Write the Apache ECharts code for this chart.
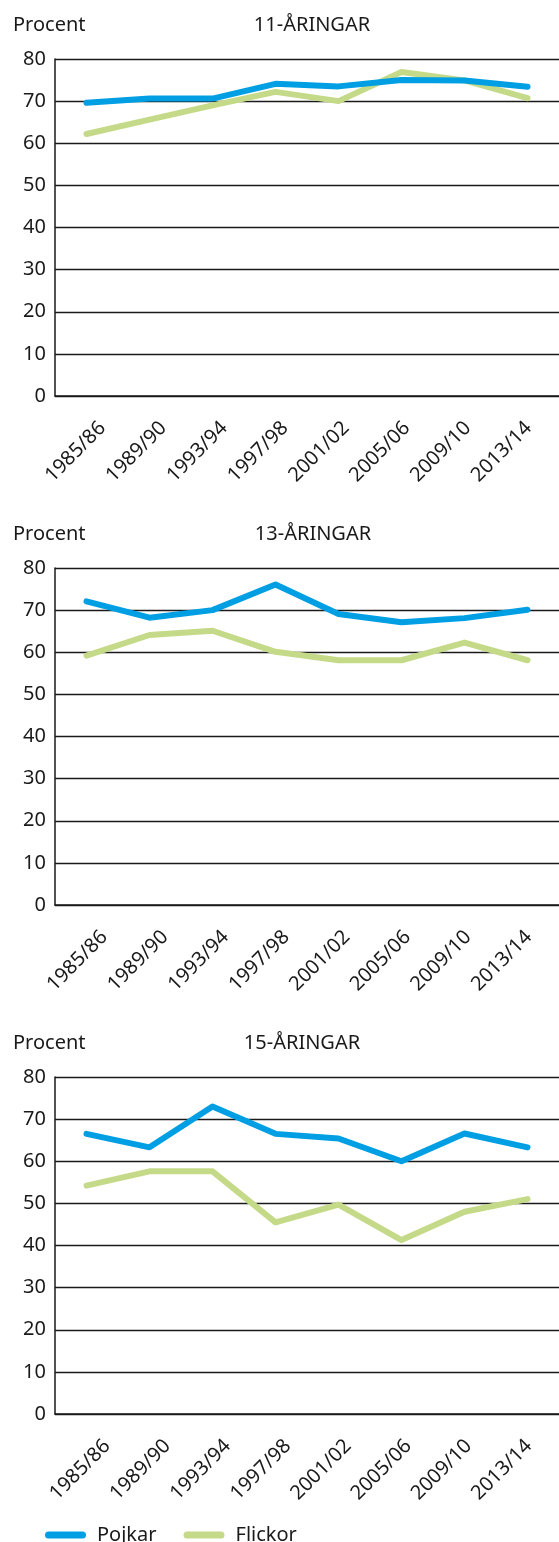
<!DOCTYPE html>
<html>
<head>
<meta charset="utf-8">
<script src="https://cdn.jsdelivr.net/npm/echarts@6/dist/echarts.min.js"></script>
<style>
  html, body { margin: 0; padding: 0; background: #fff; }
  #chart { width: 559px; height: 1542px; }
</style>
</head>
<body>
<div id="chart"></div>
<script>
// läsår
const years = ["1985/86", "1989/90", "1993/94", "1997/98", "2001/02", "2005/06", "2009/10", "2013/14"];
const yTicks = [0, 80, 10]; // min, max, steg

// 11-åringar
const boys11 = [69.6, 70.6, 70.6, 74.1, 73.5, 75, 74.9, 73.4];
const girls11 = [62.2, 65.6, 69, 72.2, 70, 76.9, 74.9, 70.7];
// 13-åringar
const boys13 = [72.1, 68.2, 70, 76.1, 69.1, 67.1, 68.1, 70.1];
const girls13 = [59.2, 64.1, 65.1, 60.1, 58.1, 58.1, 62.3, 58.1];
// 15-åringar
const boys15 = [66.5, 63.3, 73, 66.5, 65.4, 60, 66.6, 63.3];
const girls15 = [54.2, 57.6, 57.6, 45.5, 49.7, 41.3, 48, 51];

const panelTitles = ["11-ÅRINGAR", "13-ÅRINGAR", "15-ÅRINGAR"];
const panels = [
  { boys: boys11, girls: girls11, top: 59, titleX: 312, labelLeft: 72, labelWidth: 501 },
  { boys: boys13, girls: girls13, top: 568, titleX: 313, labelLeft: 74, labelWidth: 503 },
  { boys: boys15, girls: girls15, top: 1077, titleX: 302, labelLeft: 77, labelWidth: 506 },
];

const BLUE = "#009fe3";
const GREEN = "#c5da88";
const INK = "#1a1a1a";
const FONT = "Noto Sans";
const FS = 20;

const chart = echarts.init(document.getElementById("chart"), null, { renderer: "canvas" });

const grid = [];
const xAxis = [];
const yAxis = [];
const series = [];
const graphic = [];

panels.forEach((p, i) => {
  // datagrid
  grid.push({ left: 55, width: 518, top: p.top, height: 337 });
  // grid för x-etiketter (förskjutna som i originalet)
  grid.push({ left: p.labelLeft, width: p.labelWidth, top: p.top, height: 337 });

  const g = i * 2;
  xAxis.push({
    type: "category",
    gridIndex: g,
    data: years,
    boundaryGap: true,
    axisLine: { show: true, lineStyle: { color: INK, width: 1.5 } },
    axisTick: { show: false },
    axisLabel: { show: false },
    splitLine: { show: false },
  });
  xAxis.push({
    type: "category",
    gridIndex: g + 1,
    data: years,
    boundaryGap: true,
    axisLine: { show: false },
    axisTick: { show: false },
    axisLabel: {
      rotate: 45,
      margin: 29,
      color: INK,
      fontFamily: FONT,
      fontSize: FS,
      interval: 0,
    },
  });
  yAxis.push({
    type: "value",
    gridIndex: g,
    min: yTicks[0],
    max: yTicks[1],
    interval: yTicks[2],
    axisLine: { show: true, lineStyle: { color: INK, width: 1.5 } },
    axisTick: { show: false },
    axisLabel: { color: INK, fontFamily: FONT, fontSize: FS, margin: 9 },
    splitLine: { show: true, lineStyle: { color: INK, width: 1.3 } },
  });
  yAxis.push({ type: "value", gridIndex: g + 1, show: false, min: 0, max: 80 });

  series.push({
    name: "Pojkar",
    type: "line",
    xAxisIndex: g,
    yAxisIndex: g,
    data: p.boys,
    symbol: "none",
    color: BLUE,
    lineStyle: { color: BLUE, width: 6, cap: "round", join: "round" },
    z: 3,
  });
  series.push({
    name: "Flickor",
    type: "line",
    xAxisIndex: g,
    yAxisIndex: g,
    data: p.girls,
    symbol: "none",
    color: GREEN,
    lineStyle: { color: GREEN, width: 6, cap: "round", join: "round" },
    z: 2,
  });

  // rubriker
  const ty = p.top - 34;
  graphic.push({
    type: "text",
    x: 13,
    y: ty,
    style: { text: "Procent", fill: INK, font: FS + "px " + FONT, verticalAlign: "middle" },
  });
  graphic.push({
    type: "text",
    x: p.titleX,
    y: ty,
    style: {
      text: panelTitles[i],
      fill: INK,
      font: FS + "px " + FONT,
      align: "center",
      verticalAlign: "middle",
    },
  });
});

const option = {
  animation: false,
  backgroundColor: "#fff",
  grid,
  xAxis,
  yAxis,
  series,
  graphic,
  legend: {
    data: ["Pojkar", "Flickor"],
    left: 40,
    top: 1520,
    itemWidth: 41,
    itemHeight: 7,
    itemGap: 27,
    icon: "path://M3.5,0 L37.5,0 A3.5,3.5 0 0 1 37.5,7 L3.5,7 A3.5,3.5 0 0 1 3.5,0 Z",
    selectedMode: false,
    textStyle: { color: INK, fontFamily: FONT, fontSize: FS, padding: [0, 0, 0, 6] },
  },
};

chart.setOption(option);
</script>
</body>
</html>
